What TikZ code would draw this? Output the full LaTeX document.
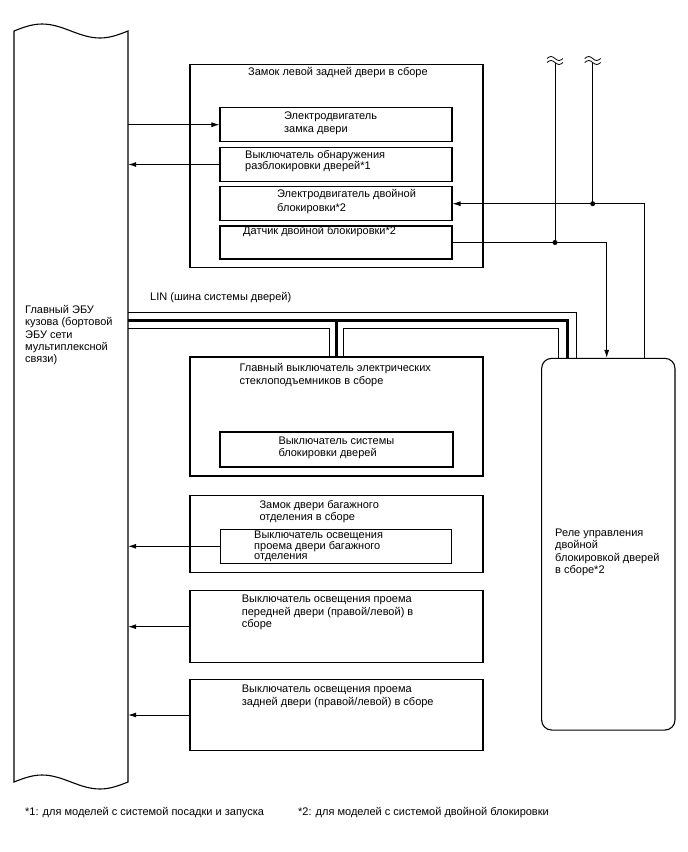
\documentclass[tikz,border=0pt]{standalone}
\usepackage{fontspec}
\setmainfont{Liberation Sans}
\usetikzlibrary{arrows.meta}
\begin{document}
\begin{tikzpicture}[x=1pt,y=-1pt,
  box/.style={draw, line width=1.1pt, inner sep=0pt, anchor=center},
  wire/.style={line width=0.8pt},
  bus/.style={line width=3pt},
  arr/.style={wire, -{Latex[length=8pt,width=5pt]}},
  lbl/.style={anchor=base west, inner sep=0pt, align=left, font=\fontsize{11}{12.5}\selectfont},
  dot/.style={circle, fill, inner sep=0pt, minimum size=5pt}
]
\useasboundingbox (0,0) rectangle (688,852);

% ECU
\node[inner sep=0pt, minimum width=114, minimum height=752] (ecu) at (71,406) {};
\draw[line width=1.1pt] (14,31) sin (42,24) cos (71,31) sin (100,38) cos (128,31)
  -- (128,782) sin (100,789) cos (71,782) sin (42,775) cos (14,782) -- cycle;
\node[lbl, font=\fontsize{11}{12.3}\selectfont] (ecut) at (25,362.7)
  {Главный ЭБУ\\кузова (бортовой\\ЭБУ сети\\мультиплексной\\связи)};

% Rear left door lock
\node[box, minimum width=293, minimum height=203.4] (lock) at (336.5,166) {};
\node[lbl] (lockt) at (248,75) {Замок левой задней двери в сборе};
\node[box, minimum width=232, minimum height=34] (m1) at (336,124.7) {};
\node[lbl] (m1t) at (284,132) {Электродвигатель\\замка двери};
\node[box, minimum width=232, minimum height=34.4] (m2) at (336,164.5) {};
\node[lbl, font=\fontsize{11}{11.8}\selectfont] (m2t) at (245,169.8) {Выключатель обнаружения\\разблокировки дверей*1};
\node[box, minimum width=232, minimum height=34] (m3) at (336,203.7) {};
\node[lbl, font=\fontsize{11}{14}\selectfont] (m3t) at (277,211) {Электродвигатель двойной\\блокировки*2};
\node[box, minimum width=232, minimum height=33] (m4) at (336,242.5) {};
\node[lbl] (m4t) at (243,234.5) {Датчик двойной блокировки*2};

% LIN label
\node[lbl] (lin) at (150,300) {LIN (шина системы дверей)};

% Power window master switch
\node[box, minimum width=293, minimum height=119] (pw) at (336.5,416.5) {};
\node[lbl, font=\fontsize{11}{13}\selectfont] (pwt) at (239.3,384) {Главный выключатель электрических\\стеклоподъемников в сборе};
\node[box, minimum width=233, minimum height=35] (pwi) at (336.5,449.5) {};
\node[lbl, font=\fontsize{11}{12}\selectfont] (pwit) at (278.3,456) {Выключатель системы\\блокировки дверей};

% Trunk lock
\node[box, minimum width=293, minimum height=77.7] (tr) at (336.5,533.9) {};
\node[lbl, font=\fontsize{11}{12.4}\selectfont] (trt) at (259.3,520.4) {Замок двери багажного\\отделения в сборе};
\node[box, minimum width=231.7, minimum height=34] (tri) at (336,546.3) {};
\node[lbl, font=\fontsize{11}{9.7}\selectfont] (trit) at (254,559.4) {Выключатель освещения\\проема двери багажного\\отделения};

% Front door courtesy switch
\node[box, minimum width=293, minimum height=72] (fd) at (336.5,626.7) {};
\node[lbl] (fdt) at (241.7,627.8) {Выключатель освещения проема\\передней двери (правой/левой) в\\сборе};

% Rear door courtesy switch
\node[box, minimum width=293, minimum height=71.4] (rd) at (336.5,715) {};
\node[lbl, font=\fontsize{11}{13.4}\selectfont] (rdt) at (241.7,705.4) {Выключатель освещения проема\\задней двери (правой/левой) в сборе};

% Relay
\node[box, rounded corners=10pt, minimum width=133.3, minimum height=371.7] (relay) at (608.3,544.2) {};
\node[lbl] (relayt) at (555,573.5) {Реле управления\\двойной\\блокировкой дверей\\в сборе*2};

% Footnotes
\node[lbl] (fn1) at (25,815.5) {*1: для моделей с системой посадки и запуска};
\node[lbl] (fn2) at (298,815.5) {*2: для моделей с системой двойной блокировки};

% ECU arrows
\draw[arr] (ecu.east |- m1.west) -- (m1.west);
\draw[arr] (m2.west) -- (ecu.east |- m2.west);
\draw[arr] (tri.west) -- (ecu.east |- tri.west);
\draw[arr] (fd.west) -- (ecu.east |- fd.west);
\draw[arr] (rd.west) -- (ecu.east |- rd.west);

% LIN bus
\coordinate (yA) at (0,312.3);
\coordinate (yB) at (0,320);
\coordinate (yC) at (0,328.3);
\coordinate (xa) at (576.7,0);
\coordinate (xb) at (567,0);
\coordinate (xc) at (558.3,0);
\coordinate (xp1) at (329.3,0);
\coordinate (xp2) at (336.5,0);
\coordinate (xp3) at (343.5,0);
\draw[wire] (ecu.east |- yA) -- (xa |- yA) -- (xa |- relay.north);
\draw[bus] (ecu.east |- yB) -- (xb |- yB) -- (xb |- relay.north);
\draw[wire] (ecu.east |- yC) -- (xp1 |- yC) -- (xp1 |- pw.north);
\draw[bus] (xp2 |- yB) -- (xp2 |- pw.north);
\draw[wire] (xp3 |- pw.north) -- (xp3 |- yC) -- (xc |- yC) -- (xc |- relay.north);

% Power supply wires with break marks
\coordinate (sq1) at (555,62.5);
\coordinate (sq2) at (592.7,62.5);
\draw[wire] (547,58.5) sin (551,56.5) cos (555,58.5) sin (559,60.5) cos (563,58.5);
\draw[wire] (547,62.5) sin (551,60.5) cos (555,62.5) sin (559,64.5) cos (563,62.5);
\draw[wire] (584.7,58.5) sin (588.7,56.5) cos (592.7,58.5) sin (596.7,60.5) cos (600.7,58.5);
\draw[wire] (584.7,62.5) sin (588.7,60.5) cos (592.7,62.5) sin (596.7,64.5) cos (600.7,62.5);
\coordinate (j1) at (sq1 |- m4.east);
\coordinate (j2) at (sq2 |- m3.east);
\coordinate (xq) at (606.7,0);
\coordinate (xr) at (644,0);
\draw[wire] (sq1) -- (j1);
\draw[wire] (sq2) -- (j2);
\draw[arr] (xr |- relay.north) -- (xr |- m3.east) -- (m3.east);
\draw[arr] (m4.east) -- (xq |- m4.east) -- (xq |- relay.north);
\node[dot] (d1) at (j1) {};
\node[dot] (d2) at (j2) {};
\end{tikzpicture}
\end{document}
